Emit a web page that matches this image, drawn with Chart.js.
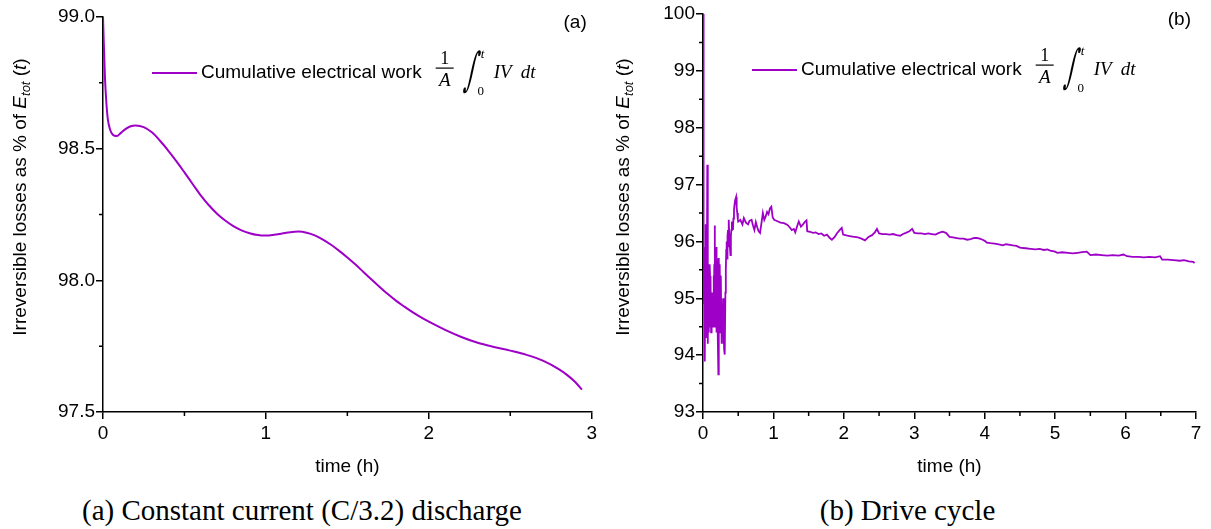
<!DOCTYPE html>
<html>
<head>
<meta charset="utf-8">
<script src="https://cdn.jsdelivr.net/npm/chart.js@4.4.0/dist/chart.umd.min.js"></script>
<style>
body { margin: 0; background: #fff; }
#wrap { position: relative; width: 1211px; height: 529px; }
canvas { position: absolute; top: 0; }
.cap { position: absolute; top: 490px; height: 40px; line-height: 40px; text-align: center;
  font-family: 'Liberation Serif', 'Times New Roman', serif; font-size: 29px; color: #000; }
</style>
</head>
<body>
<div id="wrap">
  <canvas id="chartA" width="600" height="480" style="left:0"></canvas>
  <canvas id="chartB" width="611" height="480" style="left:600px"></canvas>
  <div class="cap" style="left:0;width:604px">(a) Constant current (C/3.2) discharge</div>
  <div class="cap" style="left:600px;width:615px">(b) Drive cycle</div>
</div>
<script>
// (a) constant current discharge, time in h, losses in %
var timeA = [0, 0.005, 0.012, 0.02, 0.03, 0.045, 0.06, 0.085, 0.11, 0.14, 0.17, 0.2, 0.25, 0.3, 0.35,
  0.4, 0.45, 0.5, 0.55, 0.6, 0.65, 0.7, 0.75, 0.8, 0.85, 0.9, 0.95, 1.0, 1.05, 1.1, 1.15, 1.2, 1.25,
  1.3, 1.35, 1.4, 1.45, 1.5, 1.55, 1.6, 1.65, 1.7, 1.75, 1.8, 1.85, 1.9, 1.95, 2.0, 2.1, 2.2, 2.3,
  2.4, 2.5, 2.6, 2.7, 2.8, 2.85, 2.9, 2.94];
var lossA = [99.0, 98.9, 98.77, 98.68, 98.61, 98.57, 98.553, 98.548, 98.56, 98.575, 98.585, 98.588,
  98.582, 98.562, 98.53, 98.493, 98.453, 98.41, 98.366, 98.323, 98.285, 98.253, 98.227, 98.206, 98.19,
  98.179, 98.172, 98.17, 98.173, 98.178, 98.183, 98.185, 98.181, 98.171, 98.155, 98.135, 98.112,
  98.087, 98.06, 98.031, 98.002, 97.974, 97.947, 97.922, 97.9, 97.879, 97.86, 97.843, 97.812, 97.785,
  97.763, 97.747, 97.733, 97.717, 97.695, 97.662, 97.64, 97.613, 97.585];

// (b) drive cycle
var timeB = [0, 0.004, 0.006, 0.01, 0.014, 0.018, 0.022, 0.028, 0.032, 0.036, 0.04, 0.044, 0.048,
  0.052, 0.056, 0.061, 0.066, 0.07, 0.075, 0.08, 0.085, 0.09, 0.095, 0.1, 0.105, 0.11, 0.115, 0.12,
  0.125, 0.13, 0.135, 0.14, 0.145, 0.15, 0.155, 0.16, 0.166, 0.17, 0.175, 0.18, 0.185, 0.19, 0.195,
  0.2, 0.205, 0.21, 0.218, 0.222, 0.226, 0.23, 0.235, 0.24, 0.245, 0.25, 0.255, 0.26, 0.265, 0.27,
  0.275, 0.28, 0.285, 0.29, 0.295, 0.3, 0.305, 0.312, 0.318, 0.324, 0.33, 0.336, 0.342, 0.348, 0.355,
  0.362, 0.369, 0.375, 0.382, 0.39, 0.396, 0.403, 0.41, 0.418, 0.425, 0.432, 0.44, 0.448, 0.456, 0.47,
  0.478, 0.486, 0.495,
  0.5, 0.53, 0.56, 0.58, 0.61, 0.64, 0.66, 0.69, 0.71, 0.73, 0.75, 0.77, 0.79, 0.81, 0.83, 0.85, 0.87,
  0.89, 0.91, 0.93, 0.95, 0.97, 0.99, 1.01, 1.05, 1.1, 1.15, 1.2, 1.23, 1.26, 1.29, 1.31, 1.34, 1.36,
  1.39, 1.42, 1.45, 1.47, 1.48, 1.52, 1.56, 1.6, 1.64, 1.68, 1.72, 1.76, 1.8, 1.83, 1.87, 1.9, 1.94,
  1.97, 1.99, 2.05, 2.1, 2.15, 2.2, 2.25, 2.3, 2.35, 2.4, 2.44, 2.47, 2.5, 2.55, 2.6, 2.65, 2.7, 2.75,
  2.8, 2.84, 2.88, 2.93, 2.97, 3.0, 3.05, 3.1, 3.15, 3.2, 3.25, 3.3, 3.35, 3.4, 3.45, 3.5, 3.55, 3.6,
  3.65, 3.7, 3.75, 3.8, 3.85, 3.89, 3.93, 3.97, 4.0, 4.03, 4.08, 4.14, 4.2, 4.26, 4.3, 4.36, 4.4, 4.45,
  4.5, 4.58, 4.65, 4.72, 4.78, 4.84, 4.89, 4.93, 5.0, 5.03, 5.1, 5.18, 5.25, 5.32, 5.38, 5.45, 5.5,
  5.58, 5.66, 5.74, 5.82, 5.9, 5.97, 6.02, 6.1, 6.18, 6.26, 6.34, 6.42, 6.49, 6.52, 6.6, 6.68, 6.77,
  6.83, 6.9, 6.96, 6.98];
var lossB = [100.0, 99.0, 97.7, 96.1, 94.9, 95.9, 94.4, 93.89, 95.3, 94.6, 96.3, 95.0, 94.3,
  95.4, 94.7, 97.35, 95.3, 94.2, 95.6, 94.4, 95.1, 94.5, 95.6, 95.39, 94.6, 95.3, 94.4, 95.0,
  94.5, 95.1, 94.6, 94.9, 94.5, 95.4, 94.6, 95.6, 96.28, 95.2, 94.5, 95.6, 95.9, 94.8, 94.4,
  95.7, 95.4, 94.5, 93.66, 95.0, 95.71, 94.7, 95.2, 95.6, 94.4, 94.8, 95.4, 94.6, 94.2, 94.9,
  94.3, 94.6, 95.0, 94.2, 94.6, 94.1, 94.8, 94.01, 95.1, 95.5, 95.85, 96.0, 95.7, 96.1, 96.2,
  95.9, 96.38, 96.0, 95.9, 95.76, 96.1, 96.2, 96.35, 96.3, 96.2, 96.4, 96.55, 96.65, 96.72, 96.78,
  96.6, 96.5, 96.38,
  96.35, 96.38, 96.3, 96.41, 96.33, 96.3, 96.36, 96.38, 96.28, 96.2, 96.34, 96.25, 96.18, 96.15,
  96.32, 96.5, 96.38, 96.44, 96.52, 96.48, 96.58, 96.61, 96.42, 96.38, 96.36, 96.33, 96.32, 96.29,
  96.25, 96.2, 96.22, 96.16, 96.28, 96.35, 96.26, 96.3, 96.35, 96.37, 96.18, 96.17, 96.15, 96.16,
  96.13, 96.14, 96.1, 96.12, 96.06, 96.03, 96.08, 96.14, 96.2, 96.24, 96.12, 96.1, 96.09, 96.08,
  96.07, 96.05, 96.02, 96.08, 96.11, 96.16, 96.22, 96.14, 96.13, 96.13, 96.12, 96.13, 96.11, 96.1,
  96.13, 96.15, 96.18, 96.22, 96.15, 96.14, 96.14, 96.13, 96.14, 96.13, 96.12, 96.15, 96.17, 96.15,
  96.08, 96.07, 96.06, 96.05, 96.05, 96.03, 96.04, 96.06, 96.06, 96.05, 96.03, 96.01, 95.98, 95.97,
  95.96, 95.95, 95.93, 95.95, 95.94, 95.93, 95.92, 95.89, 95.88, 95.87, 95.86, 95.87, 95.85, 95.86,
  95.84, 95.82, 95.8, 95.81, 95.8, 95.79, 95.8, 95.81, 95.82, 95.76, 95.77, 95.76, 95.75, 95.76,
  95.75, 95.77, 95.74, 95.73, 95.73, 95.72, 95.73, 95.72, 95.74, 95.68, 95.68, 95.67, 95.66, 95.67,
  95.65, 95.64, 95.62];

var minorXA = [0.5, 1.5, 2.5];
var minorYA = [97.75, 98.25, 98.75];
var minorXB = [0.5, 1.5, 2.5, 3.5, 4.5, 5.5, 6.5];
var minorYB = [93.5, 94.5, 95.5, 96.5, 97.5, 98.5, 99.5];

var lineColor = '#9e00c8';
var sans = '"Liberation Sans", Arial, sans-serif';
var serif = '"Liberation Serif", "Times New Roman", serif';
var legendText = 'Cumulative electrical work';

function pts(t, v) {
  return t.map(function (x, i) { return { x: x, y: v[i] }; });
}

// minor ticks, panel tag, legend with formula and the rotated y title
var extras = {
  id: 'extras',
  afterDraw: function (chart, args, opts) {
    var ctx = chart.ctx, a = chart.chartArea, xs = chart.scales.x, ys = chart.scales.y;
    ctx.save();
    ctx.strokeStyle = '#000';
    ctx.lineWidth = 1.5;
    ctx.beginPath();
    opts.minorX.forEach(function (v) {
      var px = xs.getPixelForValue(v);
      ctx.moveTo(px, a.bottom); ctx.lineTo(px, a.bottom + 4);
    });
    opts.minorY.forEach(function (v) {
      var py = ys.getPixelForValue(v);
      ctx.moveTo(a.left, py); ctx.lineTo(a.left - 4, py);
    });
    ctx.stroke();

    ctx.fillStyle = '#000';
    ctx.font = '19px ' + sans;
    ctx.textAlign = 'right';
    ctx.textBaseline = 'middle';
    ctx.fillText(opts.tag, a.right - 5, a.top + 6);

    // legend
    var ly = a.top + 56;
    ctx.strokeStyle = lineColor;
    ctx.lineWidth = 2;
    ctx.beginPath(); ctx.moveTo(a.left + 49, ly); ctx.lineTo(a.left + 94, ly); ctx.stroke();
    ctx.textAlign = 'left';
    ctx.fillText(legendText, a.left + 98, ly);
    var fx = a.left + 98 + ctx.measureText(legendText).width + 14;
    ctx.textAlign = 'center';
    ctx.font = '18px ' + serif;
    ctx.fillText('1', fx + 9, ly - 14);
    ctx.font = 'italic 19px ' + serif;
    ctx.fillText('A', fx + 9, ly + 8);
    ctx.fillRect(fx, ly - 5.5, 18, 1.2);
    ctx.save();
    ctx.translate(fx + 36, ly);
    ctx.transform(1, 0, -0.2, 1, 0, 0);
    ctx.scale(0.8, 1.7);
    ctx.font = '27px "DejaVu Serif", "DejaVu Sans", serif';
    ctx.fillText('\u222B', 0, 0);
    ctx.restore();
    ctx.font = 'italic 13px ' + serif;
    ctx.fillText('t', fx + 47, ly - 18);
    ctx.font = '13px ' + serif;
    ctx.fillText('0', fx + 45, ly + 19);
    ctx.textAlign = 'left';
    ctx.textBaseline = 'alphabetic';
    ctx.font = 'italic 19px ' + serif;
    ctx.fillText('IV', fx + 58, ly + 5);
    ctx.fillText('dt', fx + 85, ly + 5);

    // y title
    var parts = [
      ['Irreversible losses as % of ', '19px ' + sans, 0],
      ['E', 'italic 19px ' + sans, 0],
      ['tot', 'italic 13px ' + sans, 5],
      [' (', '19px ' + sans, 0],
      ['t', 'italic 19px ' + sans, 0],
      [')', '19px ' + sans, 0]
    ];
    var w = 0;
    parts.forEach(function (p) { ctx.font = p[1]; w += ctx.measureText(p[0]).width; });
    ctx.translate(opts.titleX, 197);
    ctx.rotate(-Math.PI / 2);
    ctx.fillStyle = '#000';
    ctx.textBaseline = 'middle';
    var cx = -w / 2;
    parts.forEach(function (p) {
      ctx.font = p[1];
      ctx.fillText(p[0], cx, p[2]);
      cx += ctx.measureText(p[0]).width;
    });
    ctx.restore();
  }
};

function axisX(max) {
  return {
    type: 'linear', min: 0, max: max,
    border: { color: '#000', width: 1.5 },
    grid: { drawOnChartArea: false, color: '#000', lineWidth: 1.5, tickLength: 7 },
    ticks: { stepSize: 1, color: '#000', font: { size: 19, family: sans }, padding: 3, maxRotation: 0, autoSkip: false },
    title: { display: true, text: 'time (h)', color: '#000', font: { size: 19, family: sans }, padding: { top: 0, bottom: 2 } },
    afterFit: function (s) { s.height = 68; }
  };
}

function axisY(min, max, step, digits) {
  return {
    min: min, max: max,
    border: { color: '#000', width: 1.5 },
    grid: { drawOnChartArea: false, color: '#000', lineWidth: 1.5, tickLength: 7 },
    ticks: { stepSize: step, color: '#000', font: { size: 19, family: sans }, padding: 1, autoSkip: false,
      callback: function (v) { return v.toFixed(digits); } },
    afterFit: function (s) { s.width = 103; }
  };
}

new Chart(document.getElementById('chartA'), {
  type: 'line',
  data: { datasets: [{ data: pts(timeA, lossA), borderColor: lineColor, borderWidth: 2, pointRadius: 0,
    tension: 0.4, cubicInterpolationMode: 'monotone', fill: false }] },
  options: {
    responsive: false, animation: false,
    layout: { padding: { left: 0, right: 7, top: 17, bottom: 0 } },
    scales: { x: axisX(3), y: axisY(97.5, 99.0, 0.5, 1) },
    plugins: { legend: { display: false }, tooltip: { enabled: false },
      extras: { tag: '(a)', minorX: minorXA, minorY: minorYA, titleX: 21 } }
  },
  plugins: [extras]
});

new Chart(document.getElementById('chartB'), {
  type: 'line',
  data: { datasets: [{ data: pts(timeB, lossB), borderColor: lineColor, borderWidth: 1.8, pointRadius: 0,
    tension: 0, fill: false }] },
  options: {
    responsive: false, animation: false,
    layout: { padding: { left: 0, right: 15, top: 14, bottom: 0 } },
    scales: { x: axisX(7), y: axisY(93, 100, 1, 0) },
    plugins: { legend: { display: false }, tooltip: { enabled: false },
      extras: { tag: '(b)', minorX: minorXB, minorY: minorYB, titleX: 24 } }
  },
  plugins: [extras]
});
</script>
</body>
</html>
